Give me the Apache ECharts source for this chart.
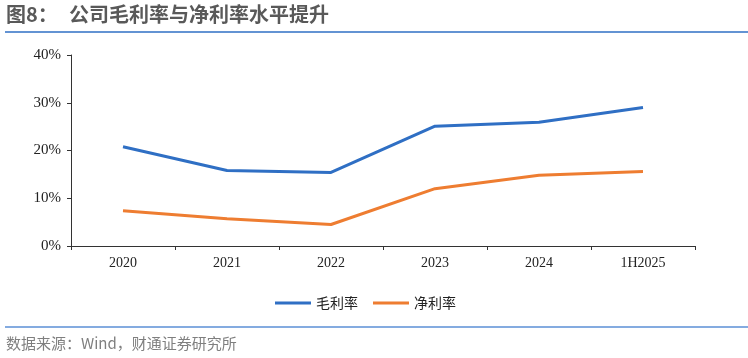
<!DOCTYPE html>
<html><head><meta charset="utf-8">
<script src="https://cdn.jsdelivr.net/npm/echarts@6/dist/echarts.min.js"></script>
<style>html,body{margin:0;padding:0;background:#fff}#c{width:748px;height:358px}</style>
</head><body><div id="c"></div>
<script>
const categories = ['2020','2021','2022','2023','2024','1H2025'];
const grossMargin = [20.8, 15.8, 15.4, 25.1, 25.9, 29.0];
const netMargin = [7.4, 5.7, 4.5, 12.0, 14.8, 15.6];
const seriesNames = ['毛利率','净利率'];
const yTicks = {min:0, max:40, interval:10};

const chart = echarts.init(document.getElementById('c'));
chart.setOption({
  animation:false,
  backgroundColor:'#fff',
  graphic:[
    {type:'text', left:6, top:4, style:{text:'图8：', fill:'#595959', font:'bold 20px "Noto Sans CJK SC"'}},
    {type:'text', left:69, top:4, style:{text:'公司毛利率与净利率水平提升', fill:'#595959', font:'bold 20px "Noto Sans CJK SC"'}},
    {type:'line', shape:{x1:5,y1:32,x2:748,y2:32}, style:{stroke:'#2f6fc4', lineWidth:1.5}},
    {type:'line', shape:{x1:5,y1:327,x2:748,y2:327}, style:{stroke:'#5b8fd6', lineWidth:1.5}},
    {type:'text', left:6, top:336, style:{text:'数据来源：Wind，财通证券研究所', fill:'#7f7f7f', font:'15px "Noto Sans CJK SC"'}}
  ],
  grid:{left:71, right:53, top:55, bottom:112},
  legend:{
    data:seriesNames, top:291, left:270, itemWidth:36, itemHeight:3, itemGap:15,
    icon:'rect',
    textStyle:{fontFamily:'"Noto Sans CJK SC"', fontSize:14, color:'#222'}
  },
  xAxis:{
    type:'category', data:categories, boundaryGap:true,
    axisLine:{lineStyle:{color:'#333', width:1}},
    axisTick:{show:true, length:4, lineStyle:{color:'#333'}},
    axisLabel:{fontFamily:'"Liberation Serif"', fontSize:14, color:'#222', margin:10}
  },
  yAxis:{
    type:'value', min:yTicks.min, max:yTicks.max, interval:yTicks.interval,
    axisLine:{show:true, lineStyle:{color:'#333', width:1}},
    axisTick:{show:true, length:4, lineStyle:{color:'#333'}},
    splitLine:{show:false},
    axisLabel:{formatter:'{value}%', fontFamily:'"Liberation Serif"', fontSize:15, color:'#222', margin:10}
  },
  series:[
    {name:seriesNames[0], type:'line', data:grossMargin, symbol:'none', lineStyle:{color:'#2f6fc4', width:3}, itemStyle:{color:'#2f6fc4'}},
    {name:seriesNames[1], type:'line', data:netMargin, symbol:'none', lineStyle:{color:'#ee7d31', width:3}, itemStyle:{color:'#ee7d31'}}
  ]
});
</script></body></html>
